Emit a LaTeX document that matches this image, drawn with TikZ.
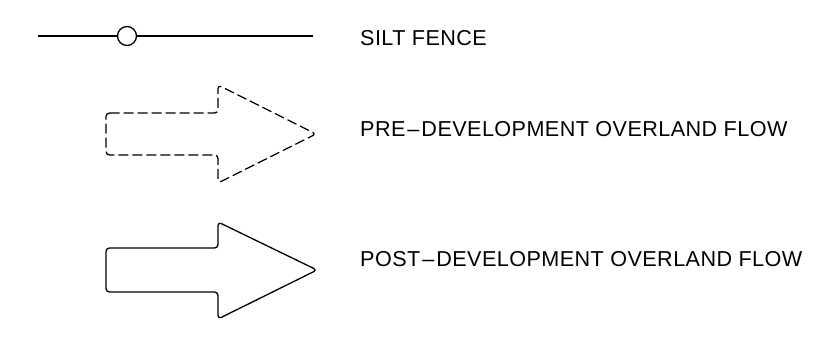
\documentclass[tikz,border=0pt]{standalone}
\usepackage{fontspec}
\setmainfont[LetterSpace=2]{Liberation Sans}
\begin{document}
\begin{tikzpicture}[x=1pt,y=-1pt,
  lbl/.style={anchor=base west,inner sep=0pt,font=\fontsize{21.6}{24}\selectfont},
  sym/.style={line width=1.3pt,line join=round,rounded corners=3.5pt},
  dsh/.style={dash pattern=on 10pt off 4pt}]
\useasboundingbox (0,0) rectangle (832,346);
% silt fence
\coordinate (sfA) at (38,36);
\coordinate (sfB) at (313,36);
\node[draw,circle,line width=1.3pt,minimum size=19pt,inner sep=0pt] (sfC) at (127,36) {};
\draw[line width=1.3pt] (sfA) -- (sfC.west);
\draw[line width=1.3pt] (sfC.east) -- (sfB);
\node[lbl] (t1) at (360,45.7) {SILT FENCE};
% pre-development (dashed) arrow
\draw[sym,dsh] (106,113) -- (218,113) -- (218,85) -- (316,134) -- (218,183) -- (218,155) -- (106,155) -- cycle;
\node[lbl] (t2) at (360,136.7) {PRE\kern2pt--\kern2pt DEVELOPMENT OVERLAND FLOW};
% post-development (solid) arrow
\draw[sym] (106,248) -- (218,248) -- (218,222) -- (317,270) -- (218,319) -- (218,292) -- (106,292) -- cycle;
\node[lbl] (t3) at (360,266.7) {POST\kern2pt--\kern2pt DEVELOPMENT OVERLAND FLOW};
\end{tikzpicture}
\end{document}
